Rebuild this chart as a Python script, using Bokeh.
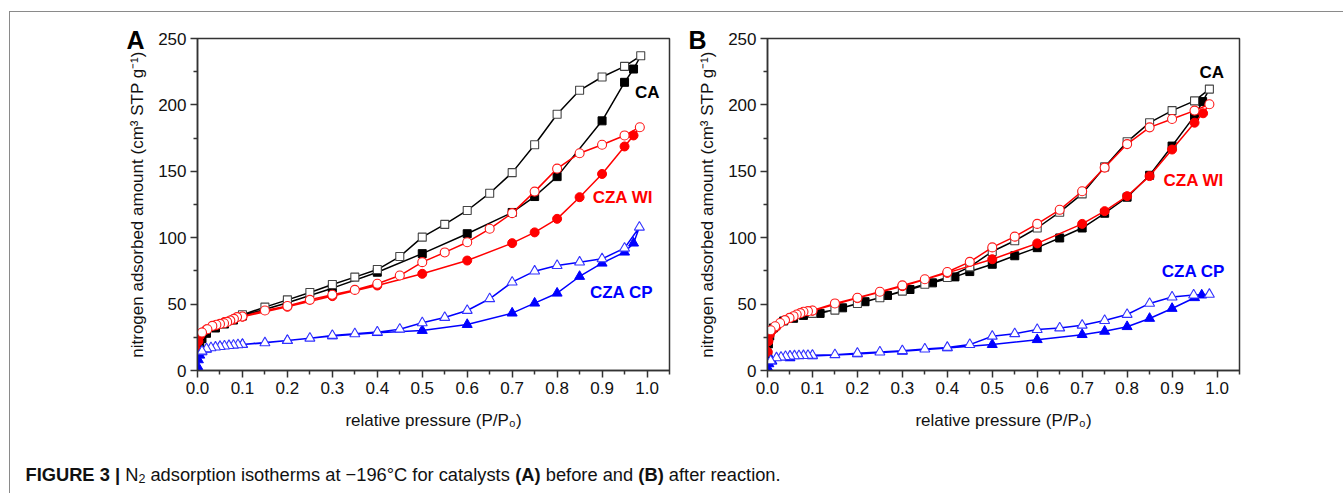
from bokeh.plotting import figure
from bokeh.models import Label, FixedTicker, PrintfTickFormatter, Range1d, Row, Column
from bokeh.embed import file_html
from bokeh.resources import INLINE

FONT = "Liberation Sans"

# ---------------- axis ticks ----------------
x_ticks = [0.0, 0.1, 0.2, 0.3, 0.4, 0.5, 0.6, 0.7, 0.8, 0.9, 1.0]
y_ticks = [0, 50, 100, 150, 200, 250]

# ---------------- Panel A (before reaction) ----------------
a_ca_ads_x = [0.001, 0.005, 0.01, 0.02, 0.04, 0.06, 0.08, 0.1, 0.2, 0.3, 0.4, 0.5, 0.6, 0.7, 0.75, 0.8, 0.9, 0.95, 0.97]
a_ca_ads_y = [14, 21, 24, 28, 32, 35, 38, 41, 51, 62, 74, 88, 103, 119, 131, 146, 188, 217, 227]
a_ca_des_x = [0.986, 0.95, 0.9, 0.85, 0.8, 0.75, 0.7, 0.65, 0.6, 0.55, 0.5, 0.45, 0.4, 0.35, 0.3, 0.25, 0.2, 0.15, 0.1]
a_ca_des_y = [237, 229, 221, 211, 193, 170, 149, 133.5, 120.5, 110, 100.4, 85.8, 76, 70.3, 64.8, 58.7, 53.2, 47.7, 42]

a_wi_ads_x = [0.0005, 0.002, 0.005, 0.01, 0.02, 0.04, 0.06, 0.08, 0.1, 0.2, 0.3, 0.4, 0.5, 0.6, 0.7, 0.75, 0.8, 0.85, 0.9, 0.95, 0.97]
a_wi_ads_y = [15, 22, 26, 28.5, 31, 34, 36.5, 38.5, 40.5, 48, 56, 64, 72.8, 82.8, 95.9, 104, 114.2, 130.5, 148, 168.7, 177]
a_wi_des_x = [0.984, 0.95, 0.9, 0.85, 0.8, 0.75, 0.7, 0.65, 0.6, 0.55, 0.5, 0.45, 0.4, 0.35, 0.3, 0.25, 0.2, 0.15, 0.1,
              0.088, 0.081, 0.073, 0.066, 0.059, 0.05, 0.042, 0.033, 0.022, 0.01]
a_wi_des_y = [183.2, 177, 170, 163.6, 152, 134.7, 118.5, 106.7, 96.6, 88.9, 81.6, 71.5, 65.3, 60.7, 57, 53.2, 48.6, 45.2, 40.7,
              40.2, 38.9, 37.7, 36.6, 35.6, 35.1, 34.4, 33.6, 31.1, 28.6]

a_cp_ads_x = [0.0005, 0.002, 0.005, 0.01, 0.02, 0.05, 0.1, 0.2, 0.3, 0.4, 0.5, 0.6, 0.7, 0.75, 0.8, 0.85, 0.9, 0.95, 0.97]
a_cp_ads_y = [3, 8, 11.5, 14, 16, 18, 19.6, 22.5, 26, 28.5, 30.1, 34.6, 43.2, 50.7, 58.2, 70.8, 80.8, 89.1, 95.9]
a_cp_des_x = [0.983, 0.95, 0.9, 0.85, 0.8, 0.75, 0.7, 0.65, 0.6, 0.55, 0.5, 0.45, 0.4, 0.35, 0.3, 0.25, 0.2, 0.15, 0.1,
              0.09, 0.08, 0.07, 0.06, 0.05, 0.04, 0.03, 0.02, 0.01]
a_cp_des_y = [107.9, 92.1, 84.1, 81.6, 79, 74.8, 66.5, 54, 45.2, 39.9, 35.9, 31.1, 28.9, 27.6, 26.4, 24.3, 22.6, 20.8, 19.6,
              19.3, 19, 18.7, 18.4, 18, 17.6, 17.1, 16.3, 14.5]

# ---------------- Panel B (after reaction) ----------------
b_ca_ads_x = [0.0005, 0.002, 0.005, 0.013, 0.036, 0.058, 0.08, 0.117, 0.167, 0.217, 0.267, 0.317, 0.367, 0.417,
              0.45, 0.5, 0.55, 0.6, 0.65, 0.7, 0.75, 0.8, 0.85, 0.9, 0.95, 0.968]
b_ca_ads_y = [12, 20, 26, 32, 37.3, 39.3, 41.5, 43, 47.2, 51.8, 56.5, 61, 66, 70.5,
              74.5, 80, 86.4, 92.5, 99.8, 107.3, 118.4, 130.5, 147, 169, 191.7, 202.5]
b_ca_des_x = [0.983, 0.95, 0.9, 0.85, 0.8, 0.75, 0.7, 0.65, 0.6, 0.55, 0.5, 0.45, 0.4, 0.35, 0.3, 0.25, 0.2, 0.15, 0.1]
b_ca_des_y = [211.9, 203, 195.7, 186.6, 172.2, 153.3, 133, 119.2, 107.3, 97.7, 89.6, 78, 70, 64.9, 59.8, 54.8, 50.5, 45.5, 43]

b_wi_ads_x = [0.0005, 0.002, 0.005, 0.01, 0.02, 0.05, 0.1, 0.2, 0.3, 0.4, 0.5, 0.6, 0.7, 0.75, 0.8, 0.85, 0.9, 0.95, 0.969]
b_wi_ads_y = [14, 22, 27, 30, 33, 39.6, 45, 54.5, 63.5, 73.5, 83.8, 95.7, 110.4, 120, 131.3, 146.4, 166.4, 186.6, 193.7]
b_wi_des_x = [0.983, 0.95, 0.9, 0.85, 0.8, 0.75, 0.7, 0.65, 0.6, 0.55, 0.5, 0.45, 0.4, 0.35, 0.3, 0.25, 0.2, 0.15, 0.1,
              0.09, 0.08, 0.073, 0.065, 0.058, 0.049, 0.039, 0.028, 0.017, 0.007]
b_wi_des_y = [200.5, 195.7, 189.4, 183.1, 170.5, 152.8, 135, 121, 110.4, 100.8, 92.7, 81.8, 74.2, 68.7, 64.1, 59.3, 54.8, 50.5, 45.2,
              44.7, 44.2, 43.2, 42.2, 40.9, 39.6, 37.9, 35.8, 33.3, 30.3]

b_cp_ads_x = [0.0005, 0.003, 0.01, 0.05, 0.1, 0.2, 0.3, 0.4, 0.5, 0.6, 0.7, 0.75, 0.8, 0.85, 0.9, 0.95, 0.966]
b_cp_ads_y = [2, 5, 7, 9.5, 11, 12.5, 14.5, 17, 19.5, 23.2, 27, 29.5, 33, 39.2, 46.7, 54.8, 56.8]
b_cp_des_x = [0.983, 0.948, 0.9, 0.85, 0.8, 0.75, 0.7, 0.65, 0.6, 0.55, 0.5, 0.45, 0.4, 0.35, 0.3, 0.25, 0.2, 0.15, 0.1,
              0.09, 0.08, 0.07, 0.06, 0.05, 0.04, 0.03, 0.02, 0.007]
b_cp_des_y = [57.3, 56.8, 55.3, 50.5, 42.2, 37.6, 34.1, 32, 30.8, 27.7, 25.8, 19.5, 17.4, 16.1, 14.9, 13.9, 12.9, 11.9, 11.4,
              11.3, 11.2, 11.1, 11, 10.8, 10.5, 10, 9.5, 7.3]

sample_names = ["CA", "CZA WI", "CZA CP"]
panel_letters = ["A", "B"]
caption_parts = [("FIGURE 3 |", True), ("N", False), ("2", False),
                 ("adsorption isotherms at −196°C for catalysts", False), ("(A)", True),
                 ("before and", False), ("(B)", True), ("after reaction.", False)]

# ---------------- styling ----------------
COL = {"CA": "#000000", "CZA WI": "#ff0000", "CZA CP": "#0000ff"}
OPEN_EDGE = {"CA": "#444444", "CZA WI": "#ff1a1a", "CZA CP": "#3333ff"}
MARK = {"CA": ("square", 8), "CZA WI": ("circle", 9), "CZA CP": ("triangle", 10)}
AX = "#333333"


def style_axes(p):
    p.grid.visible = False
    p.outline_line_color = AX
    p.outline_line_width = 1.5
    p.xaxis.ticker = FixedTicker(ticks=x_ticks, minor_ticks=[t + 0.05 for t in x_ticks])
    p.xaxis.formatter = PrintfTickFormatter(format="%.1f")
    p.yaxis.ticker = FixedTicker(ticks=y_ticks, minor_ticks=[t + 25 for t in y_ticks[:-1]])
    for ax in (p.xaxis[0], p.yaxis[0]):
        ax.axis_line_color = AX
        ax.axis_line_width = 1.5
        ax.major_tick_line_color = AX
        ax.major_tick_line_width = 1.5
        ax.minor_tick_line_color = AX
        ax.minor_tick_line_width = 1.5
        ax.major_tick_out = 7
        ax.major_tick_in = 0
        ax.minor_tick_out = 4
        ax.minor_tick_in = 0
        ax.major_label_text_font = FONT
        ax.major_label_text_font_size = "17px"
        ax.major_label_text_color = "#111111"
        ax.major_label_standoff = 4
        ax.axis_label_text_font = FONT
        ax.axis_label_text_font_size = "17px"
        ax.axis_label_text_font_style = "normal"
        ax.axis_label_text_color = "#111111"
    p.xaxis.axis_label = "relative pressure (P/P₀)"
    p.yaxis.axis_label = "nitrogen adsorbed amount (cm³ STP g⁻¹)"
    p.xaxis.axis_label_standoff = 14
    p.yaxis.axis_label_standoff = 8


def make_panel(width, bl, br, series, label_pos, letter, letter_offset):
    p = figure(width=width, height=426, x_range=Range1d(0, 1.05), y_range=Range1d(0, 250),
               output_backend="svg", toolbar_location=None,
               min_border_left=bl, min_border_right=br, min_border_top=26, min_border_bottom=68)
    style_axes(p)
    # panel letter as the plot title, pulled to the left of the y axis
    p.title.text = letter
    p.title.align = "left"
    p.title.offset = letter_offset
    p.title.standoff = -30
    p.title.text_font = FONT
    p.title.text_font_style = "bold"
    p.title.text_font_size = "25px"
    p.title.text_color = "black"
    for name in sample_names:
        ax_, ay_, dx_, dy_ = series[name]
        c = COL[name]
        m, s = MARK[name]
        p.line(list(ax_) + list(dx_), list(ay_) + list(dy_), line_color=c, line_width=1.5)
        p.scatter(ax_, ay_, marker=m, size=s, fill_color=c, line_color=c, line_width=1)
        p.scatter(dx_, dy_, marker=m, size=s, fill_color="white", line_color=OPEN_EDGE[name], line_width=1.1)
        lx, ly = label_pos[name]
        p.add_layout(Label(x=lx, y=ly, text=name, text_font=FONT, text_font_style="bold",
                           text_font_size="17px", text_color=c, text_baseline="middle", text_align="left"))
    return p


series_a = {"CA": (a_ca_ads_x, a_ca_ads_y, a_ca_des_x, a_ca_des_y),
            "CZA WI": (a_wi_ads_x, a_wi_ads_y, a_wi_des_x, a_wi_des_y),
            "CZA CP": (a_cp_ads_x, a_cp_ads_y, a_cp_des_x, a_cp_des_y)}
series_b = {"CA": (b_ca_ads_x, b_ca_ads_y, b_ca_des_x, b_ca_des_y),
            "CZA WI": (b_wi_ads_x, b_wi_ads_y, b_wi_des_x, b_wi_des_y),
            "CZA CP": (b_cp_ads_x, b_cp_ads_y, b_cp_des_x, b_cp_des_y)}

pA = make_panel(669, 187, 10, series_a,
                {"CA": (0.973, 209.6), "CZA WI": (0.879, 130.5), "CZA CP": (0.873, 59)},
                panel_letters[0], -71)
pB = make_panel(655, 88, 95, series_b,
                {"CA": (0.961, 224.5), "CZA WI": (0.881, 143), "CZA CP": (0.877, 74.5)},
                panel_letters[1], -79)

# ---------------- caption ----------------
REG = {' ': 278, 'a': 556, 'b': 556, 'c': 500, 'd': 556, 'e': 556, 'f': 278, 'h': 556, 'i': 222, 'l': 222,
       'm': 833, 'n': 556, 'o': 556, 'p': 556, 'r': 333, 's': 500, 't': 278, 'y': 500, '.': 278,
       '−': 584, '1': 556, '9': 556, '6': 556, '2': 556, '°': 400, 'C': 722, 'N': 722}
BOLD = {' ': 278, 'F': 611, 'I': 278, 'G': 778, 'U': 722, 'R': 722, 'E': 667, '3': 556, '|': 280,
        '(': 333, ')': 333, 'A': 722, 'B': 722}

CAP_W = 1333
cap = figure(width=CAP_W, height=55, x_range=Range1d(0, CAP_W), y_range=Range1d(0, 55),
             output_backend="svg", toolbar_location=None, min_border=0)
cap.axis.visible = False
cap.grid.visible = False
cap.outline_line_color = None

FS = 18.3
cursor = 15.0
base_y = 19.0
for i, (txt, bold) in enumerate(caption_parts):
    table = BOLD if bold else REG
    is_sub = (i == 2)
    size = 12.5 if is_sub else FS
    if i > 0 and not is_sub:
        cursor += REG[' '] * FS / 1000
    cap.add_layout(Label(x=cursor, y=base_y - (4 if is_sub else 0), text=txt, text_font=FONT,
                         text_font_style="bold" if bold else "normal", text_font_size=f"{size}px",
                         text_color="#111111", text_baseline="alphabetic", text_align="left"))
    cursor += sum(table[ch] for ch in txt) * size / 1000

panels = Row(children=[pA, pB], spacing=0)
layout = Column(children=[panels, cap], spacing=0, margin=(11, 0, 0, 9),
                styles={"border-top": "1px solid #8a8a8a", "border-left": "1px solid #8a8a8a"})

with open("out.html", "w") as f:
    f.write(file_html(layout, INLINE))
